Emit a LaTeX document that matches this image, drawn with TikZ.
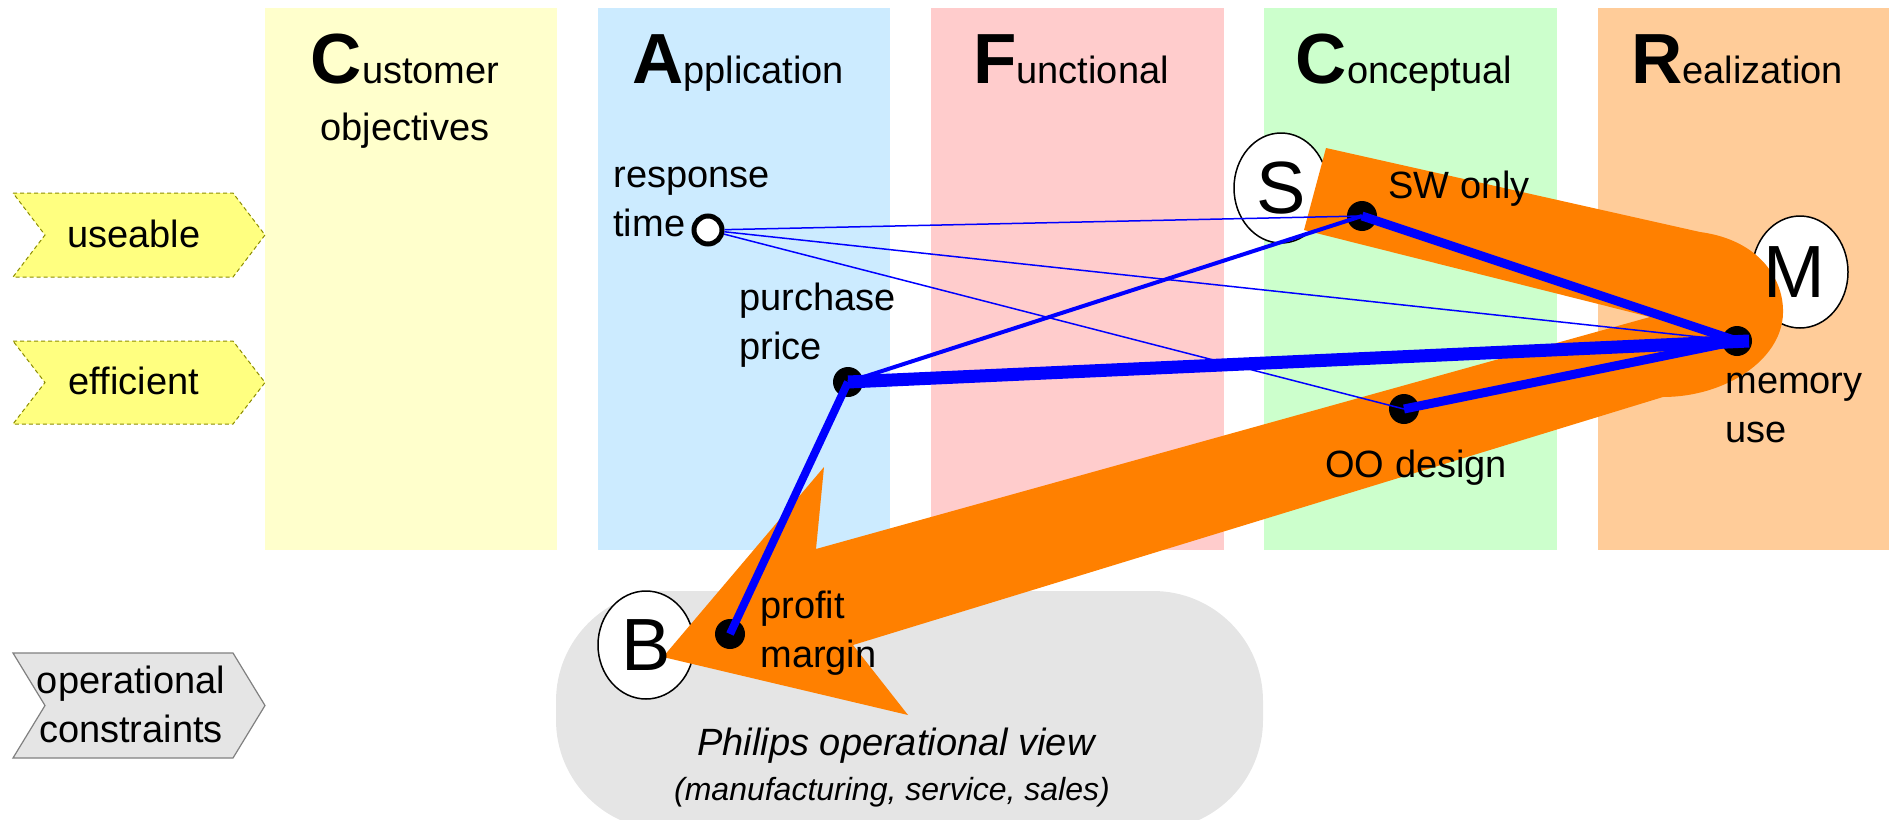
\documentclass[tikz,border=0pt]{standalone}
\usepackage{fontspec}
\setmainfont{Liberation Sans}
\definecolor{colY}{HTML}{FFFFCC}
\definecolor{colB}{HTML}{CCEBFF}
\definecolor{colP}{HTML}{FFCCCC}
\definecolor{colG}{HTML}{CCFFCC}
\definecolor{colO}{HTML}{FFCC99}
\definecolor{arrO}{HTML}{FF8000}
\definecolor{chevY}{HTML}{FFFF80}
\definecolor{chevYb}{HTML}{8C8C00}
\definecolor{grayA}{HTML}{E5E5E5}
\definecolor{grayB}{HTML}{808080}
\newcommand\bigL[1]{{\fontsize{35.5}{40}\selectfont\bfseries #1}}
\newcommand\twol[1]{\begin{tabular}[t]{@{}l@{}}#1\end{tabular}}
\newcommand\twoc[1]{\begin{tabular}[t]{@{}c@{}}#1\end{tabular}}
\tikzset{
  lbl/.style={font=\fontsize{19}{24.5}\selectfont, inner sep=0pt},
  head/.style={font=\fontsize{19}{28.5}\selectfont, inner sep=0pt, anchor=base},
  ell/.style={ellipse, draw=black, line width=0.75pt, fill=white, inner sep=0pt},
  letter/.style={font=\fontsize{37}{40}\selectfont, inner sep=0pt},
  dot/.style={circle, fill=black, minimum size=15pt, inner sep=0pt},
  odot/.style={circle, draw=black, fill=white, line width=2.5pt, minimum size=14pt, inner sep=0pt},
  lthin/.style={draw=blue, line width=0.75pt},
  lmed/.style={draw=blue, line width=2pt},
  lbold/.style={draw=blue, line width=4.5pt},
  lprof/.style={draw=blue, line width=4pt},
  lthick/.style={draw=blue, line width=6.5pt},
  chevyel/.style={fill=chevY, draw=chevYb, line width=0.5pt, dash pattern=on 2pt off 1.5pt},
  chevgray/.style={fill=grayA, draw=grayB, line width=0.6pt},
}
\usetikzlibrary{shapes.geometric}
\begin{document}
\begin{tikzpicture}[x=0.5pt,y=-0.5pt]
\useasboundingbox (0,0) rectangle (1889,819);
\clip (0,0) rectangle (1889,819);
% columns
\fill[colY] (265,8) rectangle (557,550);
\fill[colB] (598,8) rectangle (890,550);
\fill[colP] (931,8) rectangle (1224,550);
\fill[colG] (1264,8) rectangle (1557,550);
\fill[colO] (1598,8) rectangle (1889,550);
% headings
\node[head] (hcust) at (405,83) {\twoc{\bigL{C}ustomer\\objectives}};
\node[head] (happ) at (738,83) {\bigL{A}pplication};
\node[head] (hfun) at (1071,83) {\bigL{F}unctional};
\node[head] (hcon) at (1404,83) {\bigL{C}onceptual};
\node[head] (hrea) at (1737,83) {\bigL{R}ealization};
% chevrons
\filldraw[chevyel] (13,193) -- (233,193) -- (265,235) -- (233,277) -- (13,277) -- (45,235) -- cycle;
\node[lbl, anchor=base] (useable) at (134,247) {useable};
\filldraw[chevyel] (13,341) -- (233,341) -- (265,382.5) -- (233,424) -- (13,424) -- (45,382.5) -- cycle;
\node[lbl, anchor=base] (efficient) at (134,394) {efficient};
\filldraw[chevgray] (13,653) -- (233,653) -- (265,705.5) -- (233,758) -- (13,758) -- (45,705.5) -- cycle;
\node[lbl, anchor=base] (opcon) at (131,693) {\twoc{operational\\constraints}};
% operational view area
\fill[grayA, rounded corners=55pt] (556,591) rectangle (1263,830);
\node[inner sep=0pt, anchor=base, font=\fontsize{19}{24}\selectfont\itshape] (phil) at (896,755) {Philips operational view};
\node[inner sep=0pt, anchor=base, font=\fontsize{16}{20}\selectfont\itshape] (mss) at (892,800) {(manufacturing, service, sales)};
% ellipses
\node[ell, minimum width=47pt, minimum height=55pt] (S) at (1281,188) {};
\node[ell, minimum width=48pt, minimum height=56pt] (M) at (1800,272) {};
\node[ell, minimum width=48pt, minimum height=54pt] (B) at (646,645) {};
% orange arrow
\fill[arrO] (1326,148) -- (1700,232) .. controls (1760,240) and (1784,280) .. (1783,313)
  .. controls (1782,360) and (1725,397) .. (1663,397) -- (853,645) -- (908,715) -- (663,657)
  -- (824,467) -- (816,549) -- (1650,317) -- (1304,230) -- cycle;
% letters
\node[letter] (Sl) at (S.center) {S};
\node[letter] (Ml) at ([xshift=-3pt]M.center) {M};
\node[letter] (Bl) at (B.center) {B};
% dots
\node[dot] (pp) at (848,382) {};
\node[dot] (sw) at (1362,216) {};
\node[dot] (mu) at (1737,341) {};
\node[dot] (oo) at (1404,409) {};
\node[dot] (pm) at (730,634) {};
\node[odot] (rt) at (708,230) {};
% connectors
\draw[lthin] (rt) -- (sw.center);
\draw[lthin] (rt) -- (mu.center);
\draw[lthin] (rt) -- (oo.center);
\draw[lmed] (pp.center) -- (sw.center);
\draw[lthick] (pp.center) -- ([xshift=6pt]mu.center);
\draw[lbold] (sw.center) -- (mu.center);
\draw[lbold] (oo.center) -- (mu.center);
\draw[lprof] (pp.center) -- (pm.center);
% labels
\node[lbl, anchor=base west] (lrt) at (613,187) {\twol{response\\time}};
\node[lbl, anchor=base west] (lpp) at (739,310) {\twol{purchase\\price}};
\node[lbl, anchor=base west] (lsw) at (1388,198) {SW only};
\node[lbl, anchor=base west] (lmu) at (1725,393) {\twol{memory\\use}};
\node[lbl, anchor=base west] (loo) at (1325,477) {OO design};
\node[lbl, anchor=base west] (lpm) at (760,618) {\twol{profit\\margin}};
\end{tikzpicture}
\end{document}
